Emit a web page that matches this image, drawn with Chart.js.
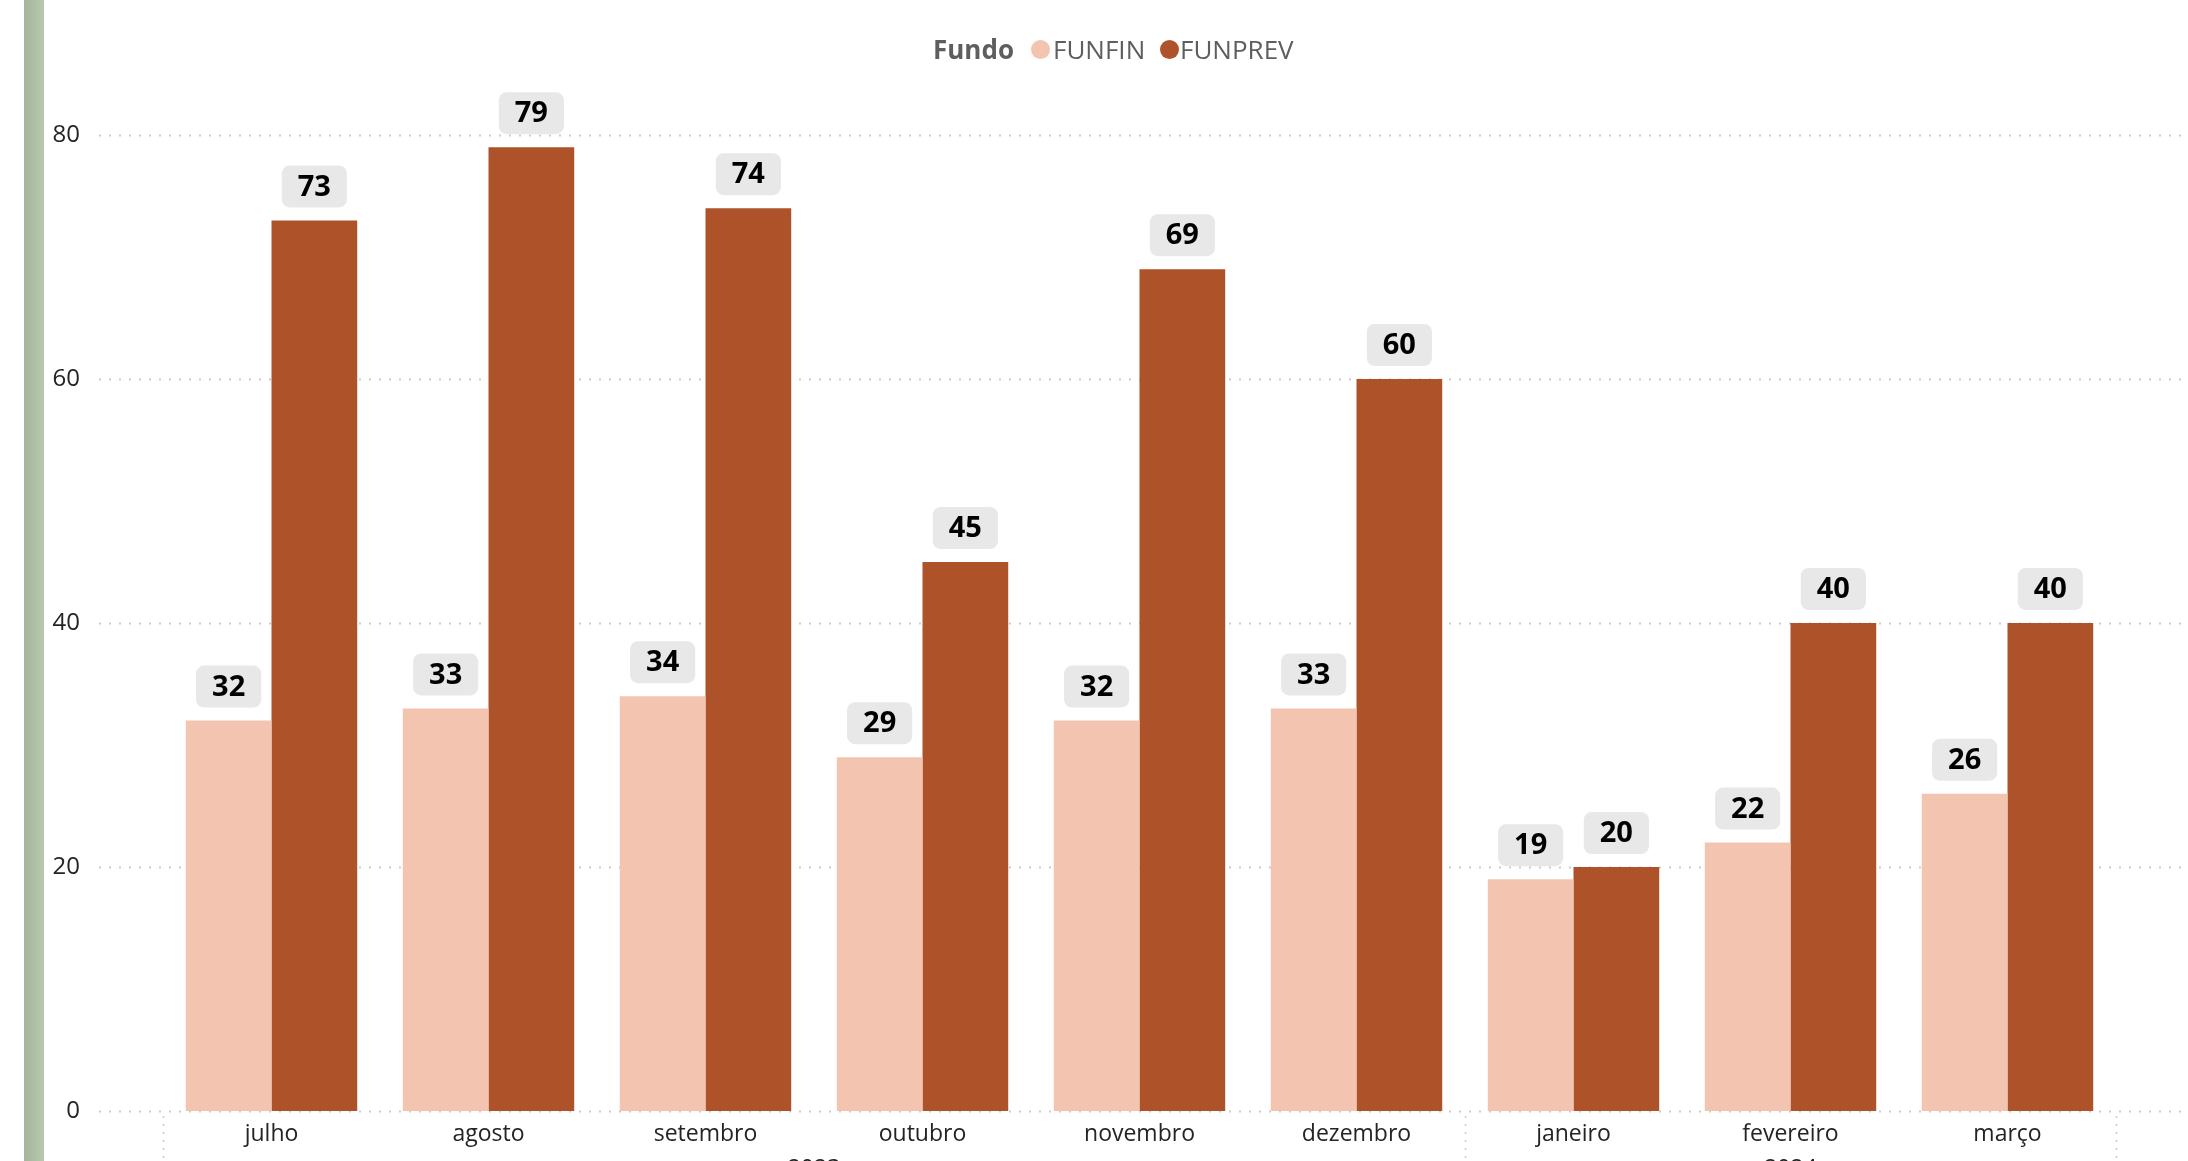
<!DOCTYPE html>
<html>
<head>
<meta charset="utf-8">
<script src="https://cdn.jsdelivr.net/npm/chart.js@4/dist/chart.umd.min.js"></script>
<style>
    body { margin: 0; background: #fff; overflow: hidden; }
    #wrap { position: relative; width: 2188px; height: 1161px; }
    #faixa { position: absolute; left: 24px; top: 0; width: 20px; height: 1161px;
             background: linear-gradient(to right, #a6b59e, #b6c9ae); }
    #grafico { position: absolute; left: 0; top: 0; }
    #legenda { position: absolute; left: 0; top: 0; font-family: "Open Sans", sans-serif;
               font-size: 26px; color: #605e5c; }
    #legenda span { position: absolute; top: 31px; white-space: nowrap; line-height: 36px; }
    .bola { width: 19px; height: 19px; border-radius: 50%; top: 40px !important; }
</style>
</head>
<body>
<div id="wrap">
    <canvas id="grafico" width="2188" height="1161"></canvas>
    <div id="faixa"></div>
    <div id="legenda">
        <span style="left:933px; font-weight:bold">Fundo</span>
        <span class="bola" style="left:1031px; background:#F3C4AF"></span><span style="left:1053px">FUNFIN</span>
        <span class="bola" style="left:1160px; background:#AE5229"></span><span style="left:1180px">FUNPREV</span>
    </div>
</div>
<script>
const meses = ['julho', 'agosto', 'setembro', 'outubro', 'novembro', 'dezembro', 'janeiro', 'fevereiro', 'março'];
const anos = ['2023', '2024'];
const funfin = [32, 33, 34, 29, 32, 33, 19, 22, 26];
const funprev = [73, 79, 74, 45, 69, 60, 20, 40, 40];
const yTicks = [0, 20, 40, 60, 80];

const fonte = '"Open Sans", sans-serif';

// linhas pontilhadas horizontais e divisores dos anos
const gradePlugin = {
    id: 'grade',
    beforeDatasetsDraw(chart) {
        const c = chart.ctx;
        const y = chart.scales.y;
        const x = chart.scales.x;
        c.save();
        c.strokeStyle = '#cccccc';
        c.lineWidth = 2;
        c.setLineDash([2, 8]);
        yTicks.forEach(function (v) {
            const py = Math.round(y.getPixelForValue(v)) + 0.5;
            c.beginPath();
            c.moveTo(99, py);
            c.lineTo(2182, py);
            c.stroke();
        });
        // divisores verticais no eixo x
        const meio = x.getPixelForValue(0.5) - x.getPixelForValue(0);
        const divs = [x.getPixelForValue(0) - meio, x.getPixelForValue(5) + meio, x.getPixelForValue(8) + meio];
        c.lineWidth = 1.5;
        c.setLineDash([2, 6]);
        divs.forEach(function (px) {
            c.beginPath();
            c.moveTo(Math.round(px) + 0.5, y.bottom + 5);
            c.lineTo(Math.round(px) + 0.5, 1161);
            c.stroke();
        });
        c.setLineDash([]);
        c.fillStyle = '#252423';
        c.font = '23px ' + fonte;
        c.textAlign = 'center';
        c.textBaseline = 'middle';
        c.fillText(anos[0], (divs[0] + divs[1]) / 2, 1169);
        c.fillText(anos[1], (divs[1] + divs[2]) / 2, 1169);
        c.restore();
    }
};

// rótulos com fundo cinza
const rotulosPlugin = {
    id: 'rotulos',
    afterDatasetsDraw(chart) {
        const c = chart.ctx;
        c.save();
        c.font = 'bold 29px ' + fonte;
        c.textAlign = 'center';
        c.textBaseline = 'middle';
        chart.data.datasets.forEach(function (ds, i) {
            chart.getDatasetMeta(i).data.forEach(function (bar, j) {
                const txt = String(ds.data[j]);
                const w = c.measureText(txt).width + 32;
                const h = 42;
                const bx = bar.x - w / 2;
                const by = bar.y - 13 - h;
                c.fillStyle = '#e8e8e8';
                c.beginPath();
                c.roundRect(bx, by, w, h, 8);
                c.fill();
                c.fillStyle = '#000000';
                c.fillText(txt, bar.x, by + h / 2 + 1);
            });
        });
        c.restore();
    }
};

const ctx = document.getElementById('grafico').getContext('2d');
const grafico = new Chart(ctx, {
    type: 'bar',
    data: {
        labels: meses,
        datasets: [{
            label: 'FUNFIN',
            data: funfin,
            backgroundColor: '#F3C4AF'
        },
        {
            label: 'FUNPREV',
            data: funprev,
            backgroundColor: '#AE5229'
        }]
    },
    options: {
        responsive: false,
        maintainAspectRatio: false,
        animation: false,
        devicePixelRatio: 1,
        layout: { padding: { top: 135, right: 72, bottom: 0, left: 0 } },
        categoryPercentage: 0.79,
        barPercentage: 1.0,
        scales: {
            x: {
                grid: { display: false, drawTicks: false },
                border: { display: false },
                ticks: { color: '#252423', font: { family: fonte, size: 23 }, padding: 10, maxRotation: 0 },
                afterFit: function (s) { s.height = 50; }
            },
            y: {
                min: 0,
                max: 80,
                grid: { display: false, drawTicks: false },
                border: { display: false },
                ticks: { stepSize: 20, color: '#252423', font: { family: fonte, size: 24 }, padding: 83 },
                afterFit: function (s) {
                    s.width = 163;
                    // o padding dos ticks não deve empurrar a área para cima/baixo
                    s.paddingTop = 0;
                    s.paddingBottom = 0;
                }
            }
        },
        plugins: {
            legend: { display: false },
            tooltip: { enabled: false }
        }
    },
    plugins: [gradePlugin, rotulosPlugin]
});
</script>
</body>
</html>
